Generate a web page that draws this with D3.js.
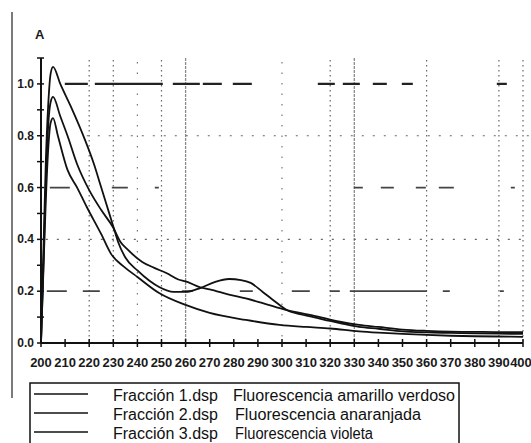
<!DOCTYPE html>
<html>
<head>
<meta charset="utf-8">
<script src="https://cdn.jsdelivr.net/npm/d3@7"></script>
<style>
  body { margin: 0; background: #fff; }
  svg { display: block; }
  .tick-label { font-family: "Liberation Sans Narrow", "Liberation Sans", Arial, sans-serif; font-size: 13px; font-weight: bold; fill: #1a1a1a; }
  .legend-text { font-family: "Liberation Sans", Arial, sans-serif; font-size: 16px; fill: #111; }
</style>
</head>
<body>
<svg id="chart" width="531" height="443"></svg>
<script>
// Fracción 1 (amarillo verdoso) - the one with the hump near 280 nm
var lambda1 = [200, 201, 202, 203, 204, 205, 208, 213, 218, 222, 225, 228, 230, 232, 235, 240, 245, 249, 255, 260, 266, 272, 278, 283, 287, 292, 296, 299, 302, 308, 313, 320, 324, 332, 340, 350, 360, 370, 380, 390, 400];
var abs1    = [0.0, 0.35, 0.7, 0.92, 1.04, 1.066, 1.0, 0.9, 0.79, 0.69, 0.6, 0.51, 0.45, 0.39, 0.33, 0.28, 0.24, 0.216, 0.197, 0.197, 0.212, 0.235, 0.247, 0.243, 0.232, 0.197, 0.168, 0.147, 0.127, 0.11, 0.1, 0.085, 0.077, 0.062, 0.055, 0.045, 0.041, 0.039, 0.037, 0.036, 0.035];

// Fracción 2 (anaranjada)
var lambda2 = [200, 201, 202, 203, 204, 205, 208, 211, 215, 220, 225, 230, 233, 236, 242, 247, 252, 257, 260, 266, 270, 278, 285, 292, 302, 313, 324, 332, 340, 350, 360, 370, 380, 390, 400];
var abs2    = [0.0, 0.3, 0.62, 0.84, 0.93, 0.95, 0.875, 0.8, 0.69, 0.59, 0.513, 0.445, 0.39, 0.36, 0.313, 0.29, 0.27, 0.245, 0.238, 0.215, 0.207, 0.187, 0.172, 0.154, 0.127, 0.106, 0.082, 0.07, 0.062, 0.052, 0.047, 0.044, 0.043, 0.042, 0.042];

// Fracción 3 (violeta)
var lambda3 = [200, 201, 202, 203, 204, 205, 207, 211, 215, 219, 225, 229, 235, 240, 249, 260, 270, 285, 299, 310, 320, 332, 340, 350, 360, 370, 380, 390, 400];
var abs3    = [0.0, 0.28, 0.55, 0.75, 0.85, 0.868, 0.8, 0.668, 0.6, 0.525, 0.42, 0.345, 0.29, 0.255, 0.193, 0.147, 0.116, 0.089, 0.07, 0.062, 0.056, 0.045, 0.04, 0.035, 0.031, 0.028, 0.026, 0.025, 0.024];

var xTicks = d3.range(200, 401, 10);
var yTickLabels = [0.0, 0.2, 0.4, 0.6, 0.8, 1.0];
var yTicksMinor = d3.range(0, 1.11, 0.1);

var legendLabels = ['Fracción 1.dsp', 'Fracción 2.dsp', 'Fracción 3.dsp'];
var legendNames = ['Fluorescencia amarillo verdoso', 'Fluorescencia anaranjada', 'Fluorescencia violeta'];

// grid lines of the scanned plot
var gridXDots = [220, 230, 250, 320, 360, 390, 400];
var gridXSparse = [240, 300];
var gridXGray = [260, 330];
var gridYDash = [0.2, 0.6, 1.0];
var gridYDot = [0.4, 0.8];
// the scan's dashes are uneven, so each dashed level gets its own pattern
var dashPattern = {
  '1': '0,19,23,7,68,10,27,3,19,11,19,66,17,8,17,13,14,15,11,84,10,100',
  '0.6': '0,4,20,42,16,27,4,195,9,18,13,22,10,13,15,57,4,60',
  '0.2': '0,1,20,16,17,82,11,47,13,39,18,20,10,10,77,16,7,50,4,60'
};

var svg = d3.select('#chart');
svg.append('rect').attr('width', 531).attr('height', 443).attr('fill', '#fff');

var x = d3.scaleLinear().domain([200, 400]).range([41, 523]);
var y = d3.scaleLinear().domain([0, 1.1]).range([343, 58]);

var grid = svg.append('g');
grid.selectAll('.gxd').data(gridXDots).enter().append('line')
    .attr('x1', function(d) { return x(d); }).attr('x2', function(d) { return x(d); })
    .attr('y1', y(1.1) + 2).attr('y2', y(0))
    .attr('stroke', '#666').attr('stroke-width', 1.2).attr('stroke-dasharray', '1.5,3.5');
grid.selectAll('.gxs').data(gridXSparse).enter().append('line')
    .attr('x1', function(d) { return x(d); }).attr('x2', function(d) { return x(d); })
    .attr('y1', y(1.1) + 4).attr('y2', y(0))
    .attr('stroke', '#777').attr('stroke-width', 1.2).attr('stroke-dasharray', '1.5,9');
grid.selectAll('.gxg').data(gridXGray).enter().append('line')
    .attr('x1', function(d) { return x(d); }).attr('x2', function(d) { return x(d); })
    .attr('y1', y(1.1)).attr('y2', y(0))
    .attr('stroke', '#8a8a8a').attr('stroke-width', 1.3).attr('stroke-dasharray', '3,1');
grid.selectAll('.gyd').data(gridYDash).enter().append('line')
    .attr('x1', x(202)).attr('x2', x(400) + 6)
    .attr('y1', function(d) { return y(d); }).attr('y2', function(d) { return y(d); })
    .attr('stroke', function(d) { return d === 1.0 ? '#222' : '#444'; })
    .attr('stroke-width', function(d) { return d === 1.0 ? 2.2 : 1.7; })
    .attr('stroke-dasharray', function(d) { return dashPattern[String(d)]; });
grid.selectAll('.gyo').data(gridYDot).enter().append('line')
    .attr('x1', function(d) { return d === 0.8 ? x(219) : x(202); }).attr('x2', x(400) + 6)
    .attr('y1', function(d) { return y(d); }).attr('y2', function(d) { return y(d); })
    .attr('stroke', '#666').attr('stroke-width', 1.2).attr('stroke-dasharray', '2,9');

// axes
var axes = svg.append('g').attr('stroke', '#111');
axes.append('line').attr('x1', x(200)).attr('x2', x(200)).attr('y1', y(1.1)).attr('y2', y(0)).attr('stroke-width', 2);
axes.append('line').attr('x1', x(200)).attr('x2', x(400)).attr('y1', y(0)).attr('y2', y(0)).attr('stroke-width', 2);
axes.selectAll('.yt').data(yTicksMinor).enter().append('line')
    .attr('x1', x(200) - 4).attr('x2', x(200) + 3)
    .attr('y1', function(d) { return y(d); }).attr('y2', function(d) { return y(d); })
    .attr('stroke-width', 1.5);
axes.selectAll('.xt').data(xTicks).enter().append('line')
    .attr('x1', function(d) { return x(d); }).attr('x2', function(d) { return x(d); })
    .attr('y1', y(0) - 4).attr('y2', y(0) + 4)
    .attr('stroke-width', 1.5);

svg.selectAll('.xl').data(xTicks).enter().append('text')
    .attr('class', 'tick-label')
    .attr('x', function(d) { return d === 400 ? x(d) - 2 : x(d); })
    .attr('y', 367)
    .attr('text-anchor', 'middle')
    .text(function(d) { return d; });
svg.selectAll('.yl').data(yTickLabels).enter().append('text')
    .attr('class', 'tick-label')
    .style('font-size', '12px')
    .attr('x', 34)
    .attr('y', function(d) { return y(d) + 4; })
    .attr('text-anchor', 'end')
    .text(function(d) { return d.toFixed(1); });
svg.append('text').attr('class', 'tick-label')
    .attr('x', 35).attr('y', 39).text('A');

// left frame line
svg.append('line').attr('x1', 12).attr('x2', 12).attr('y1', 12).attr('y2', 398)
   .attr('stroke', '#333').attr('stroke-width', 1.3);

// spectra
var line = d3.line()
    .x(function(d) { return x(d[0]); })
    .y(function(d) { return y(d[1]); })
    .curve(d3.curveMonotoneX);
var series = [d3.zip(lambda1, abs1), d3.zip(lambda2, abs2), d3.zip(lambda3, abs3)];
svg.selectAll('.spec').data(series).enter().append('path')
    .attr('d', line)
    .attr('fill', 'none')
    .attr('stroke', '#111')
    .attr('stroke-width', 1.8);

// legend
var legend = svg.append('g');
legend.append('rect').attr('x', 30).attr('y', 383).attr('width', 429).attr('height', 70)
    .attr('fill', 'none').attr('stroke', '#111').attr('stroke-width', 1.5);
var rows = legend.selectAll('.row').data(legendLabels).enter().append('g')
    .attr('transform', function(d, i) { return 'translate(0,' + (394 + i * 19) + ')'; });
rows.append('line').attr('x1', 34).attr('x2', 88).attr('y1', 0).attr('y2', 0)
    .attr('stroke', '#111').attr('stroke-width', 1.7);
rows.append('text').attr('class', 'legend-text')
    .attr('x', 113).attr('y', 7)
    .attr('textLength', 105).attr('lengthAdjust', 'spacingAndGlyphs')
    .text(function(d) { return d; });
var nameWidths = [222, 186, 138];
rows.append('text').attr('class', 'legend-text')
    .attr('x', function(d, i) { return i === 0 ? 233 : 235; }).attr('y', 7)
    .attr('textLength', function(d, i) { return nameWidths[i]; })
    .attr('lengthAdjust', 'spacingAndGlyphs')
    .text(function(d, i) { return legendNames[i]; });
</script>
</body>
</html>
